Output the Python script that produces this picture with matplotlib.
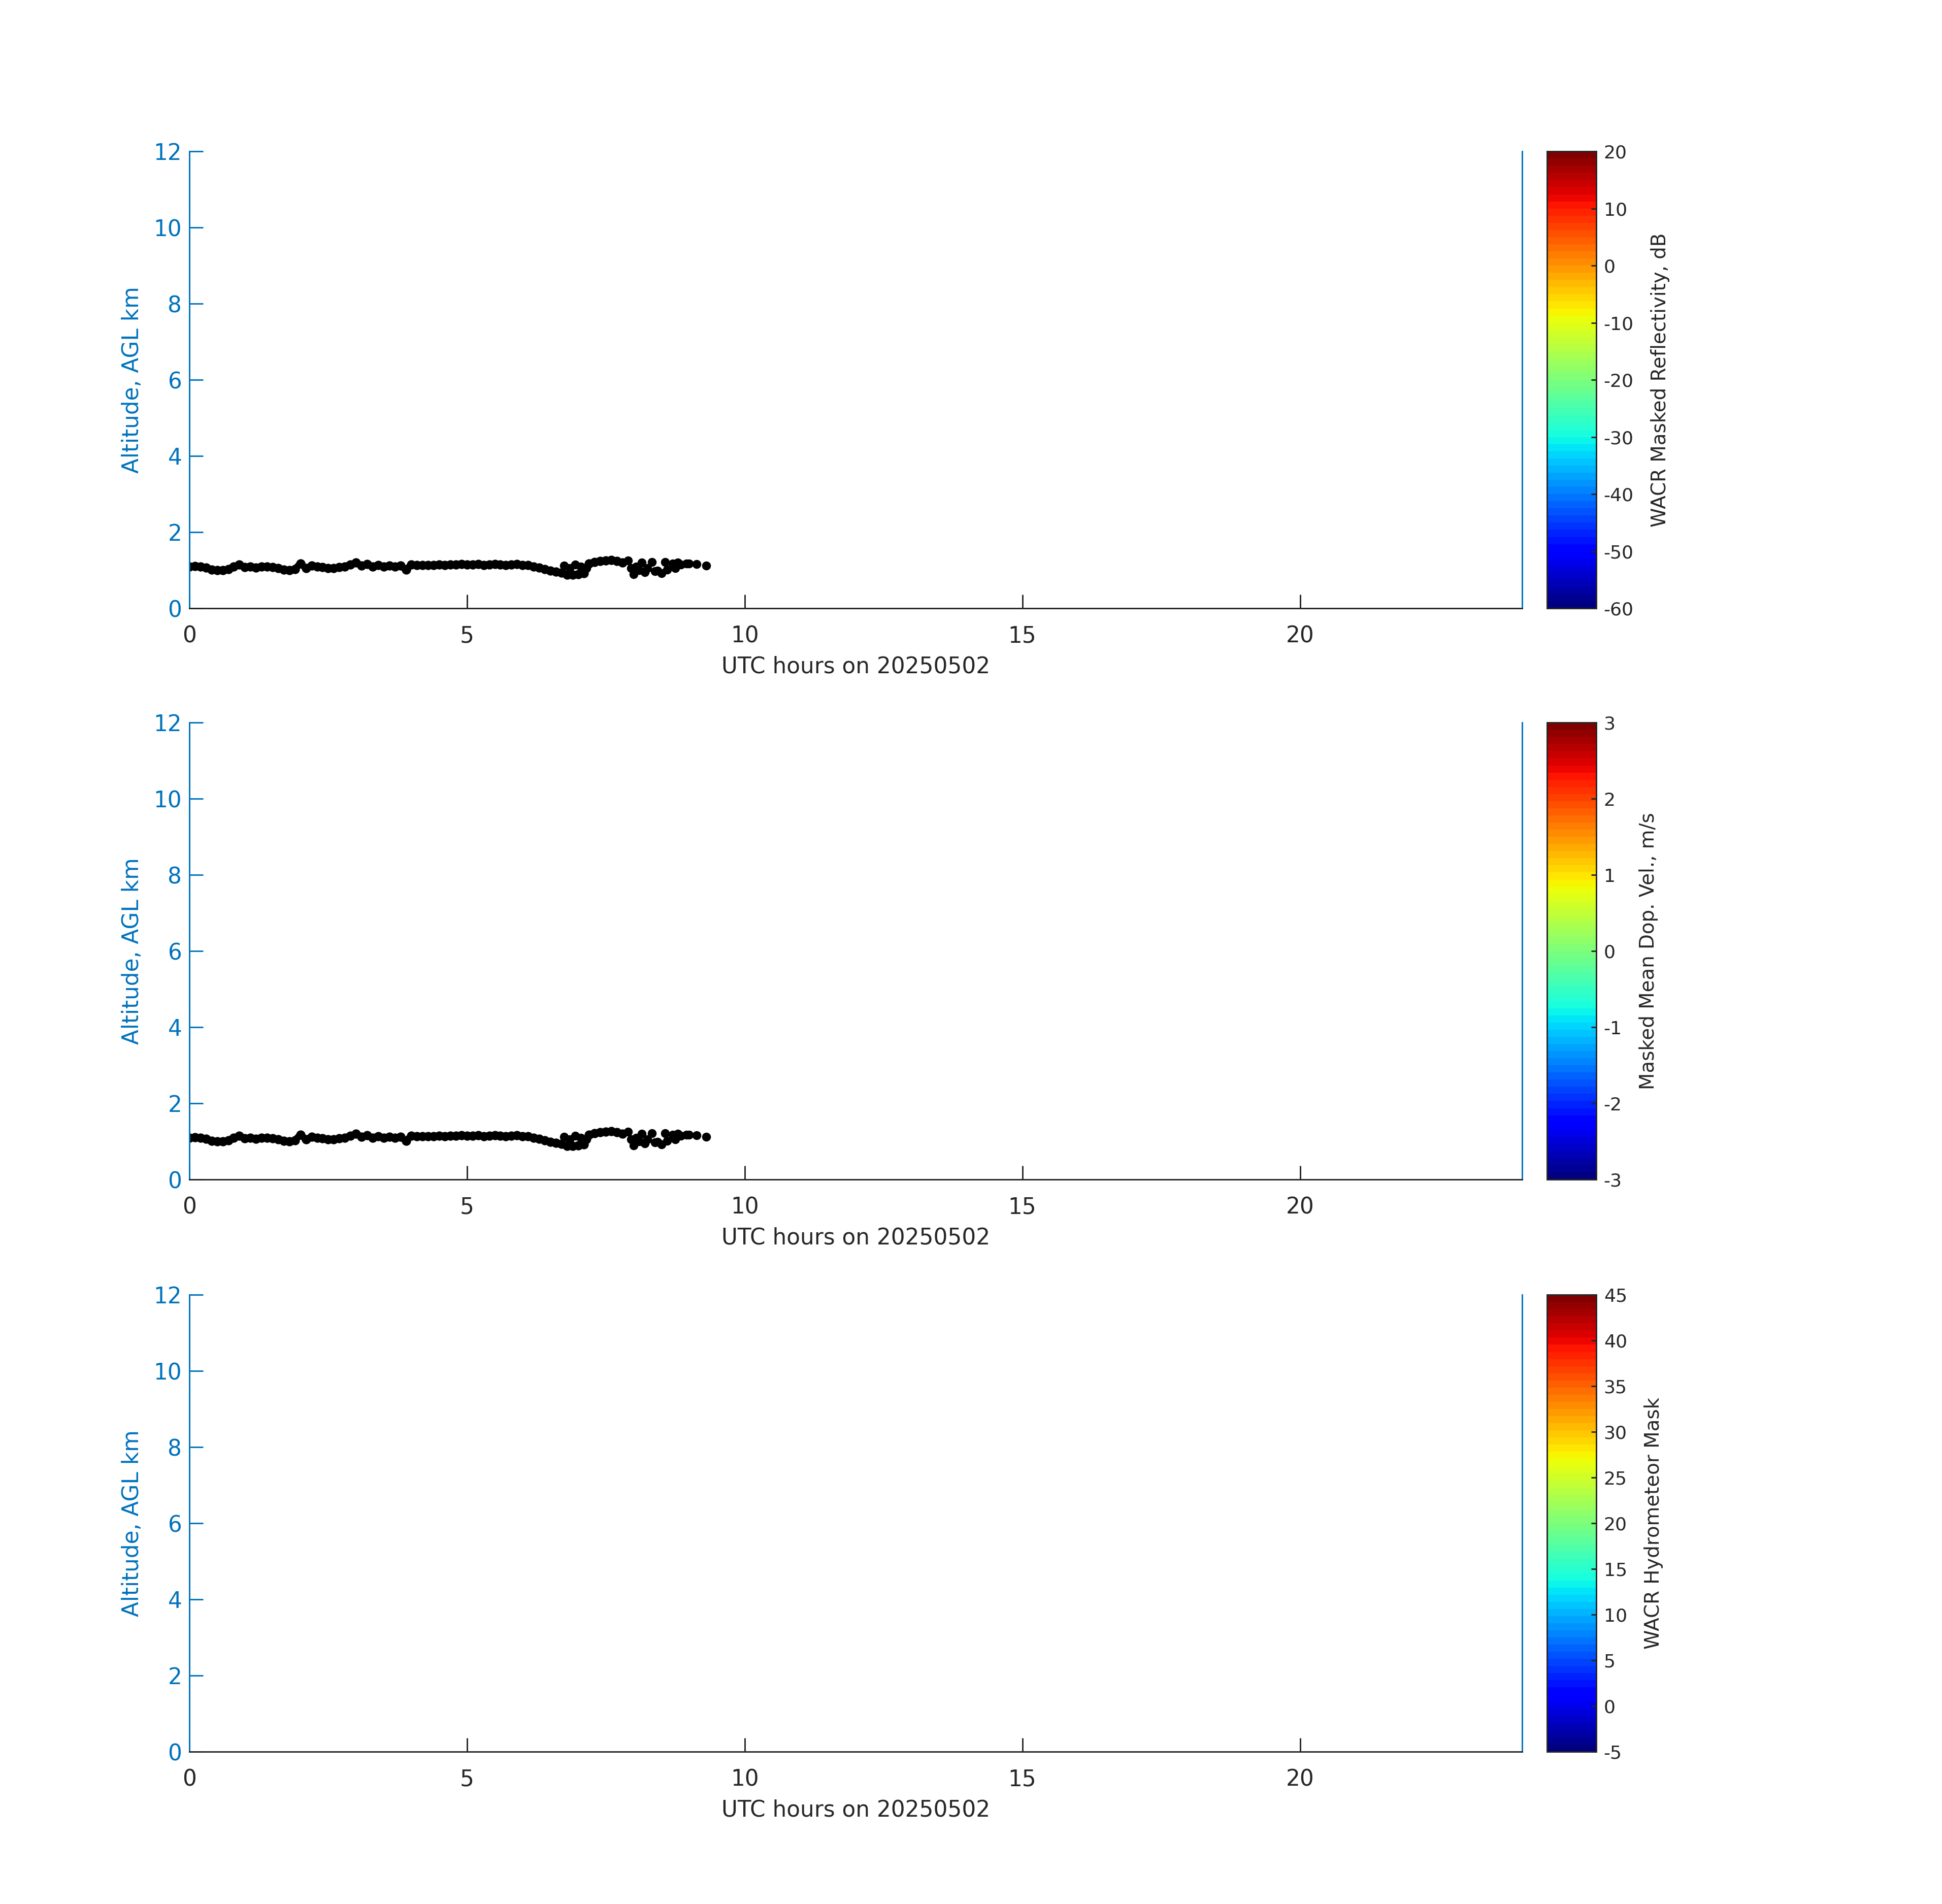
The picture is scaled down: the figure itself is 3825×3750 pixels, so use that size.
import matplotlib
matplotlib.use("Agg")
import matplotlib.pyplot as plt
from matplotlib.colors import Normalize
from matplotlib.cm import ScalarMappable

plt.rcParams['font.family'] = ['DejaVu Sans']
plt.rcParams['axes.unicode_minus'] = False

# cloud-base trace (UTC hours, km AGL)
trace_hours = [0.0, 0.1, 0.2, 0.3, 0.4, 0.5, 0.6, 0.7, 0.8, 0.9,
               1.0, 1.1, 1.2, 1.3, 1.4, 1.5, 1.6, 1.7, 1.8, 1.9,
               2.0, 2.1, 2.2, 2.3, 2.4, 2.5, 2.6, 2.7, 2.8, 2.9,
               3.0, 3.1, 3.2, 3.3, 3.4, 3.5, 3.6, 3.7, 3.8, 3.9,
               4.0, 4.1, 4.2, 4.3, 4.4, 4.5, 4.6, 4.7, 4.8, 4.9,
               5.0, 5.1, 5.2, 5.3, 5.4, 5.5, 5.6, 5.7, 5.8, 5.9,
               6.0, 6.1, 6.2, 6.3, 6.4, 6.5, 6.6, 6.7, 6.8, 6.9,
               7.0, 7.1, 7.2, 7.3, 7.4, 7.5, 7.6, 7.7, 7.8]
trace_alt = [1.10, 1.11, 1.10, 1.07, 1.02, 1.00, 1.00, 1.03, 1.10, 1.15,
             1.08, 1.10, 1.07, 1.10, 1.09, 1.08, 1.06, 1.02, 1.00, 1.03,
             1.18, 1.05, 1.12, 1.10, 1.08, 1.06, 1.05, 1.08, 1.10, 1.15,
             1.20, 1.12, 1.16, 1.10, 1.14, 1.10, 1.12, 1.09, 1.12, 1.02,
             1.15, 1.13, 1.14, 1.13, 1.14, 1.15, 1.14, 1.15, 1.15, 1.16,
             1.15, 1.15, 1.16, 1.14, 1.15, 1.16, 1.15, 1.14, 1.15, 1.16,
             1.14, 1.13, 1.10, 1.07, 1.03, 0.99, 0.96, 0.93, 0.88, 0.88,
             0.90, 0.92, 1.18, 1.22, 1.24, 1.25, 1.27, 1.24, 1.20]

# scattered returns
dots_hours = [6.75, 6.85, 6.95, 7.05, 7.15, 7.9, 7.95, 8.0, 8.05, 8.1,
              8.15, 8.2, 8.25, 8.33, 8.38, 8.43, 8.5, 8.57, 8.6, 8.7,
              8.75, 8.8, 8.85, 8.95, 9.0, 9.13, 9.31]
dots_alt = [1.12, 1.05, 1.15, 1.10, 1.05, 1.25, 1.05, 0.90, 1.10, 1.00,
            1.20, 0.95, 1.05, 1.22, 0.98, 0.99, 0.92, 1.22, 1.02, 1.18,
            1.05, 1.20, 1.15, 1.18, 1.17, 1.16, 1.12]

xticks = [0, 5, 10, 15, 20]
yticks = [0, 2, 4, 6, 8, 10, 12]

cbar_labels = ["WACR Masked Reflectivity, dB",
               "Masked Mean Dop. Vel., m/s",
               "WACR Hydrometeor Mask"]
cbar_ranges = [(-60, 20), (-3, 3), (-5, 45)]
cbar_ticks = [list(range(-60, 21, 10)),
              list(range(-3, 4)),
              list(range(-5, 46, 5))]
show_trace = [True, True, False]

blue = '#0072BD'
dark = '#262626'

fig = plt.figure(figsize=(12.75, 12.5), dpi=300)
bottoms = [0.6805, 0.3805, 0.08]
cmap = plt.get_cmap('jet', 64)

for i in range(3):
    ax = fig.add_axes([0.0975, bottoms[i], 0.6863, 0.24])
    if show_trace[i]:
        ax.plot(trace_hours, trace_alt, '-o', color='k', lw=3.2, ms=3.4)
        ax.plot(dots_hours, dots_alt, 'o', color='k', ms=3.2)
    ax.set_xlim(0, 24)
    ax.set_ylim(0, 12)
    ax.set_xticks(xticks)
    ax.set_yticks(yticks)
    ax.spines['top'].set_visible(False)
    ax.spines['left'].set_color(blue)
    ax.spines['right'].set_color(blue)
    ax.spines['bottom'].set_color(dark)
    for s in ax.spines.values():
        s.set_linewidth(0.7)
    ax.tick_params(axis='y', direction='in', length=6.5, width=0.7,
                   colors=blue, labelsize=10.5)
    ax.tick_params(axis='x', direction='in', length=6.5, width=0.7,
                   color=dark, labelcolor=dark, labelsize=10.5, pad=8)
    ax.set_ylabel("Altitude, AGL km", color=blue, fontsize=10.5, labelpad=5)
    ax.set_xlabel("UTC hours on 20250502", color=dark, fontsize=10.5)

    cax = fig.add_axes([0.7966, bottoms[i], 0.0254, 0.24])
    vmin, vmax = cbar_ranges[i]
    sm = ScalarMappable(norm=Normalize(vmin, vmax), cmap=cmap)
    cb = fig.colorbar(sm, cax=cax)
    cb.set_ticks(cbar_ticks[i])
    cb.outline.set_edgecolor(dark)
    cb.outline.set_linewidth(0.7)
    cax.tick_params(direction='in', length=2.4, width=0.7, color=dark,
                    labelcolor=dark, labelsize=8.7)
    cb.set_label(cbar_labels[i], fontsize=9.3, color=dark, labelpad=8)

fig.savefig("out.png", dpi=300)
